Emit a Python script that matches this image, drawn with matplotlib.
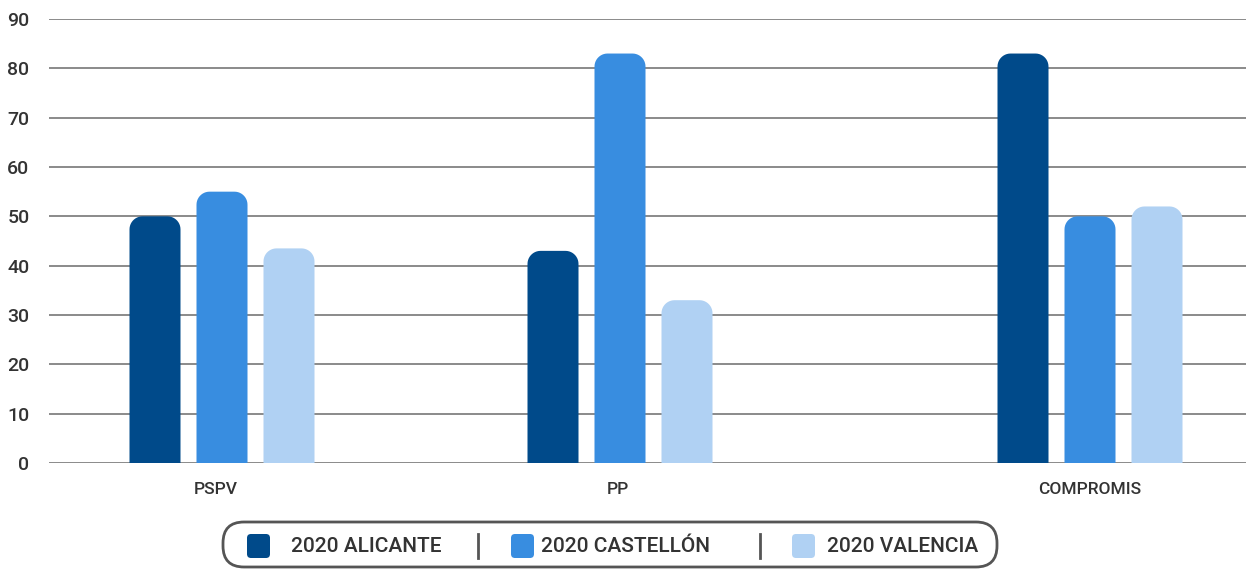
import numpy as np
import matplotlib
matplotlib.use('Agg')
from matplotlib import pyplot as plt
from matplotlib.patches import FancyBboxPatch, Polygon

# Data.
categories = ['PSPV', 'PP', 'COMPROMIS']
series_names = ['2020 ALICANTE', '2020 CASTELLÓN', '2020 VALENCIA']
alicante = [50, 43, 83]
castellon = [55, 83, 50]
valencia = [43.5, 33, 52]
y_ticks = [0, 10, 20, 30, 40, 50, 60, 70, 80, 90]

series = [alicante, castellon, valencia]
colors = ['#004a8a', '#388de0', '#b0d1f3']

plt.rcParams['font.family'] = ['Roboto', 'DejaVu Sans']
text_color = '#333333'

W, H = 1246, 569
fig = plt.figure(figsize=(W / 100, H / 100), dpi=100)

# Main axes: x in pixel units so the uneven group spacing is easy.
left, right, top, zero = 49, 1246, 19, 463
ax = fig.add_axes([left / W, 1 - zero / H, (right - left) / W, (zero - top) / H])
ax.set_xlim(left, right)
ax.set_ylim(0, 90)

group_x = [222, 620, 1090]
label_x = [216, 618, 1090]
bar_w = 51
step = 67
px_per_unit = (zero - top) / 90.0
radius = 13


def rounded_bar(ax, x0, w, h, color):
    # bar with rounded top corners; radius in pixels, y scaled to data units
    ry = radius / px_per_unit
    t = np.linspace(0, np.pi / 2, 12)
    right_arc = [(x0 + w - radius + radius * np.cos(a), h - ry + ry * np.sin(a)) for a in t]
    left_arc = [(x0 + radius - radius * np.cos(a), h - ry + ry * np.sin(a)) for a in t[::-1]]
    pts = [(x0, 0), (x0 + w, 0)] + right_arc + left_arc
    ax.add_patch(Polygon(pts, closed=True, facecolor=color, edgecolor='none', zorder=3))


for i, (vals, color) in enumerate(zip(series, colors)):
    for gx, v in zip(group_x, vals):
        rounded_bar(ax, gx + (i - 1) * step - bar_w / 2, bar_w, v, color)

ax.set_yticks(y_ticks)
ax.yaxis.grid(True, color='#8a8a8a', linewidth=1.4, zorder=0)
ax.set_axisbelow(True)
ax.set_xticks(label_x)
ax.set_xticklabels(categories)
ax.tick_params(axis='y', length=0, pad=14, labelsize=14, labelcolor=text_color)
ax.tick_params(axis='x', length=0, pad=14, labelsize=12.5, labelcolor=text_color)
for lab in ax.get_xticklabels() + ax.get_yticklabels():
    lab.set_fontweight('medium')
for s in ax.spines.values():
    s.set_visible(False)
ax.set_ylim(0, 90)

# Legend drawn in pixel coordinates on an overlay axes.
lg = fig.add_axes([0, 0, 1, 1])
lg.set_xlim(0, W)
lg.set_ylim(H, 0)
lg.axis('off')
lg.add_patch(FancyBboxPatch((223, 522), 774, 45,
                            boxstyle='round,pad=0,rounding_size=21',
                            facecolor='white', edgecolor='#555555', linewidth=2))
marker_x = [247, 511, 792]
text_x = [291, 541, 827]
sep_x = [478, 760]
cy = 546
for mx, tx, name, color in zip(marker_x, text_x, series_names, colors):
    lg.add_patch(FancyBboxPatch((mx, cy - 12), 23, 24,
                                boxstyle='round,pad=0,rounding_size=4',
                                facecolor=color, edgecolor='none'))
    lg.text(tx, cy + 1, name, fontsize=15, fontweight='medium', color=text_color,
            va='center', ha='left')
for sx in sep_x:
    lg.plot([sx, sx], [cy - 12, cy + 12], color='#555555', linewidth=2)

plt.savefig('out.png', dpi=100)
